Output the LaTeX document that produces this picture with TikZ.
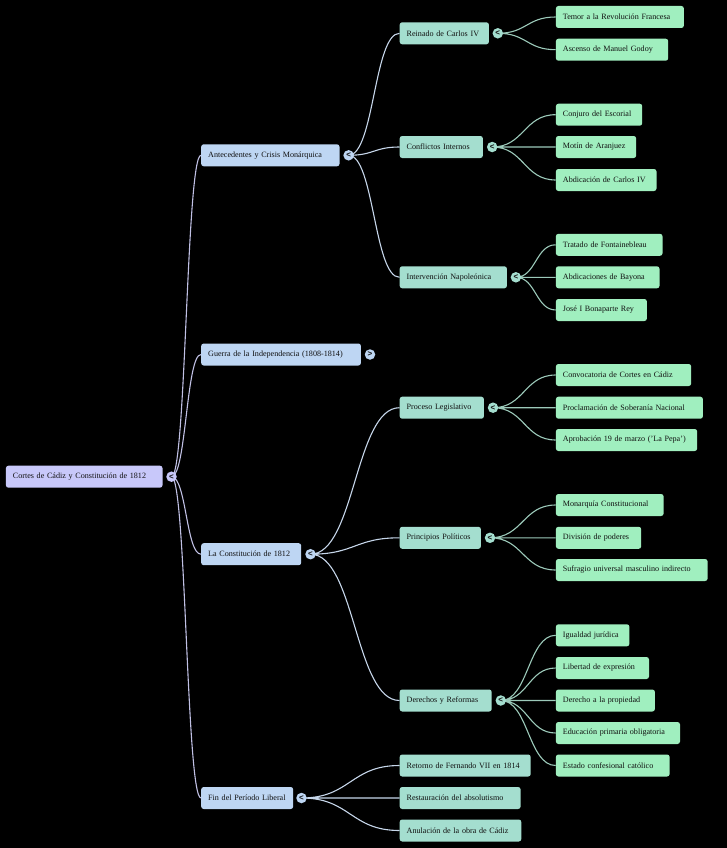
\documentclass[tikz,border=0pt]{standalone}
\usepackage{fontspec}
\setmainfont{Liberation Serif}
\newfontfamily\chevfont{Liberation Sans}
\usetikzlibrary{backgrounds,calc}
\definecolor{rootc}{HTML}{C8C8FA}
\definecolor{lonec}{HTML}{BED6F3}
\definecolor{ltwoc}{HTML}{A4DECF}
\definecolor{lthreec}{HTML}{A0EFBF}
\definecolor{rootedge}{HTML}{C0C0E4}
\definecolor{oneedge}{HTML}{C6D6EA}
\definecolor{twoedge}{HTML}{9CCABA}
\definecolor{txt}{HTML}{111111}
\tikzset{
  mbox/.style={rounded corners=2.5pt, inner xsep=7pt, inner ysep=0pt,
    minimum height=22pt, anchor=west, align=left,
    font=\fontsize{8.1}{9.5}\selectfont, text=txt},
  rootbox/.style={mbox, fill=rootc},
  onebox/.style={mbox, fill=lonec},
  twobox/.style={mbox, fill=ltwoc},
  threebox/.style={mbox, fill=lthreec},
  toggle/.style={circle, inner sep=0pt, minimum size=10.5pt,
    font=\chevfont\bfseries\fontsize{8}{8}\selectfont, text=txt},
  link/.style={line width=1.1pt},
  sedge/.style={to path={let \p1=(\tikztostart), \p2=(\tikztotarget) in
    .. controls ({(\x1+\x2)/2},\y1) and ({(\x1+\x2)/2},\y2) .. (\tikztotarget)}},
}
\begin{document}
\begin{tikzpicture}[x=1pt,y=-1pt]
\useasboundingbox (0,0) rectangle (727,848);
% root
\node[rootbox, text width=142.6pt] (root) at (5.7,476.7) {Cortes de Cádiz y Constitución de 1812};
\node[toggle, fill=rootc] (rt) at (171.5,476.7) {<};
% level 1
\node[onebox, text width=124.3pt] (ant) at (201,155.3) {Antecedentes y Crisis Monárquica};
\node[toggle, fill=lonec] (antt) at (348.6,155.3) {<};
\node[onebox, text width=145.7pt] (gue) at (201,354.5) {Guerra de la Independencia (1808-1814)};
\node[toggle, fill=lonec] (guet) at (370,354.5) {>};
\node[onebox, text width=86pt] (con) at (201,554.2) {La Constitución de 1812};
\node[toggle, fill=lonec] (cont) at (310.5,554.2) {<};
\node[onebox, text width=78pt] (fin) at (201,798) {Fin del Período Liberal};
\node[toggle, fill=lonec] (fint) at (301.5,798) {<};
% level 2
\node[twobox, text width=75.2pt] (rei) at (399.5,33.3) {Reinado de Carlos IV};
\node[toggle, fill=ltwoc] (reit) at (497.8,33.3) {<};
\node[twobox, text width=69.2pt] (cfi) at (399.5,147) {Conflictos Internos};
\node[toggle, fill=ltwoc] (cfit) at (492.2,147) {<};
\node[twobox, text width=93.2pt] (int) at (399.5,277.3) {Intervención Napoleónica};
\node[toggle, fill=ltwoc] (intt) at (515.9,277.3) {<};
\node[twobox, text width=70.2pt] (pro) at (399.5,407.7) {Proceso Legislativo};
\node[toggle, fill=ltwoc] (prot) at (493,407.7) {<};
\node[twobox, text width=67.2pt] (pri) at (399.5,537.8) {Principios Políticos};
\node[toggle, fill=ltwoc] (prit) at (490,537.8) {<};
\node[twobox, text width=78pt] (der) at (399.5,700.5) {Derechos y Reformas};
\node[toggle, fill=ltwoc] (dert) at (500.8,700.5) {<};
\node[twobox, text width=117pt] (ret) at (399.5,765.5) {Retorno de Fernando VII en 1814};
\node[twobox, text width=106.9pt] (res) at (399.5,798) {Restauración del absolutismo};
\node[twobox, text width=107.6pt] (anu) at (399.5,830.5) {Anulación de la obra de Cádiz};
% level 3
\node[threebox, text width=114pt] (tem) at (555.7,17) {Temor a la Revolución Francesa};
\node[threebox, text width=98.3pt] (asc) at (555.7,49.7) {Ascenso de Manuel Godoy};
\node[threebox, text width=72.3pt] (cnj) at (555.7,114.7) {Conjuro del Escorial};
\node[threebox, text width=66.3pt] (mot) at (555.7,147) {Motín de Aranjuez};
\node[threebox, text width=86.6pt] (abd) at (555.7,180) {Abdicación de Carlos IV};
\node[threebox, text width=92.6pt] (tra) at (555.7,244.8) {Tratado de Fontainebleau};
\node[threebox, text width=89.6pt] (aby) at (555.7,277.3) {Abdicaciones de Bayona};
\node[threebox, text width=77pt] (jos) at (555.7,310) {José I Bonaparte Rey};
\node[threebox, text width=121.3pt] (cnv) at (555.7,375) {Convocatoria de Cortes en Cádiz};
\node[threebox, text width=133pt] (prc) at (555.7,407.7) {Proclamación de Soberanía Nacional};
\node[threebox, text width=127.3pt] (apr) at (555.7,440) {Aprobación 19 de marzo ('La Pepa')};
\node[threebox, text width=93.7pt] (mon) at (555.7,505) {Monarquía Constitucional};
\node[threebox, text width=71.3pt] (div) at (555.7,537.8) {División de poderes};
\node[threebox, text width=137.7pt] (suf) at (555.7,570) {Sufragio universal masculino indirecto};
\node[threebox, text width=59.5pt] (igu) at (555.7,635.3) {Igualdad jurídica};
\node[threebox, text width=79.1pt] (lib) at (555.7,668) {Libertad de expresión};
\node[threebox, text width=85pt] (dpr) at (555.7,700.5) {Derecho a la propiedad};
\node[threebox, text width=110.1pt] (edu) at (555.7,733) {Educación primaria obligatoria};
\node[threebox, text width=99.7pt] (est) at (555.7,765.5) {Estado confesional católico};
\begin{pgfonlayer}{background}
\fill[black] (0,0) rectangle (727,848);
\draw[link, rootedge] (rt.center) to[sedge] (ant.west) (rt.center) to[sedge] (gue.west)
  (rt.center) to[sedge] (con.west) (rt.center) to[sedge] (fin.west);
\draw[link, oneedge] (antt.center) to[sedge] (rei.west) (antt.center) to[sedge] (cfi.west)
  (antt.center) to[sedge] (int.west)
  (cont.center) to[sedge] (pro.west) (cont.center) to[sedge] (pri.west)
  (cont.center) to[sedge] (der.west)
  (fint.center) to[sedge] (ret.west) (fint.center) to[sedge] (res.west)
  (fint.center) to[sedge] (anu.west);
\draw[link, twoedge] (reit.center) to[sedge] (tem.west) (reit.center) to[sedge] (asc.west)
  (cfit.center) to[sedge] (cnj.west) (cfit.center) to[sedge] (mot.west) (cfit.center) to[sedge] (abd.west)
  (intt.center) to[sedge] (tra.west) (intt.center) to[sedge] (aby.west) (intt.center) to[sedge] (jos.west)
  (prot.center) to[sedge] (cnv.west) (prot.center) to[sedge] (prc.west) (prot.center) to[sedge] (apr.west)
  (prit.center) to[sedge] (mon.west) (prit.center) to[sedge] (div.west) (prit.center) to[sedge] (suf.west)
  (dert.center) to[sedge] (igu.west) (dert.center) to[sedge] (lib.west) (dert.center) to[sedge] (dpr.west)
  (dert.center) to[sedge] (edu.west) (dert.center) to[sedge] (est.west);
\end{pgfonlayer}
\end{tikzpicture}
\end{document}
